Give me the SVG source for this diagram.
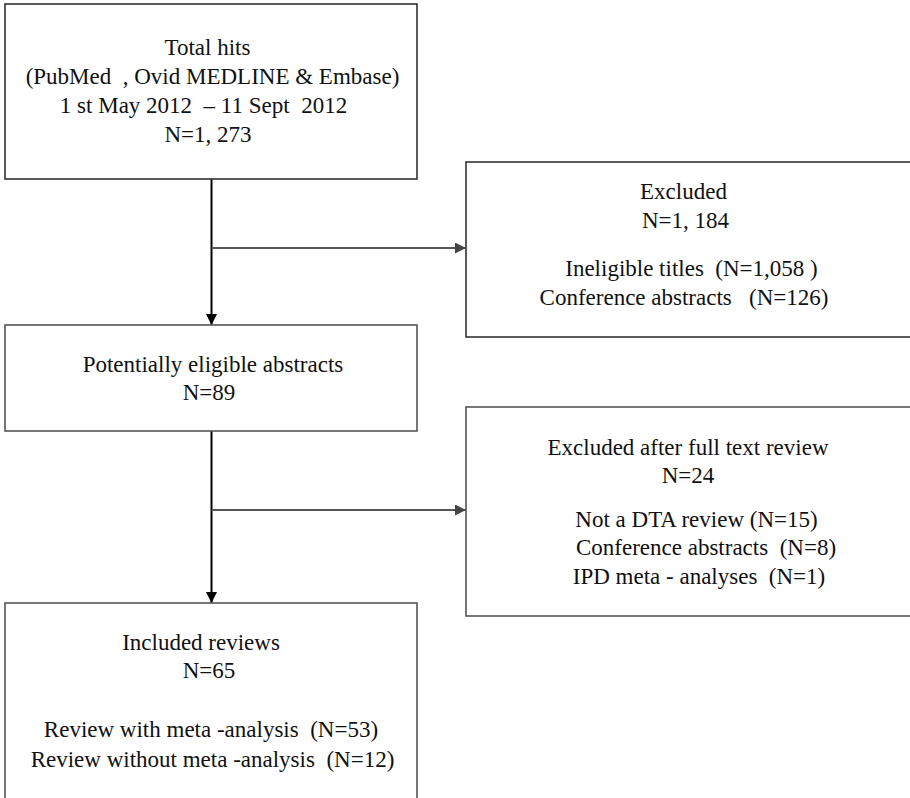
<svg xmlns="http://www.w3.org/2000/svg" width="910" height="798" viewBox="0 0 910 798" xml:space="preserve">
<defs>
<style>
.box{fill:#fff;stroke:#333;stroke-width:1.6}
.box2{fill:#fff;stroke:#555;stroke-width:1.6}
.t text{font-size:23px;fill:#111;text-anchor:middle;white-space:pre}
.v{stroke:#000;stroke-width:2;fill:none}
.h{stroke:#555;stroke-width:1.8;fill:none}
</style>
<marker id="ad" markerWidth="11" markerHeight="11" viewBox="0 0 11 11" refX="11" refY="5.5" orient="auto" markerUnits="userSpaceOnUse"><path d="M0,0 L11,5.5 L0,11 Z" fill="#000"/></marker>
<marker id="ag" markerWidth="11" markerHeight="11" viewBox="0 0 11 11" refX="11" refY="5.5" orient="auto" markerUnits="userSpaceOnUse"><path d="M0,0 L11,5.5 L0,11 Z" fill="#444"/></marker>
</defs>
<rect width="910" height="798" fill="#fff"/>
<g id="connectors">
<line class="v" x1="211.5" y1="179" x2="211.5" y2="325" marker-end="url(#ad)"/>
<line class="h" x1="211.5" y1="248" x2="466" y2="248" marker-end="url(#ag)"/>
<line class="v" x1="211.5" y1="431" x2="211.5" y2="603" marker-end="url(#ad)"/>
<line class="h" x1="211.5" y1="510" x2="466" y2="510" marker-end="url(#ag)"/>
</g>
<g class="t" font-family="'Liberation Serif', 'DejaVu Serif', serif">
<g id="total-hits">
<rect class="box" x="5" y="4" width="412" height="175"/>
<text x="207.5" y="55">Total hits</text>
<text x="212.5" y="84">(PubMed  , Ovid MEDLINE &amp; Embase)</text>
<text x="203.5" y="113">1 st May 2012  – 11 Sept  2012</text>
<text x="208" y="142">N=1, 273</text>
</g>
<g id="excluded">
<rect class="box" x="466" y="162" width="460" height="175"/>
<text x="683.5" y="199">Excluded</text>
<text x="685.5" y="228">N=1, 184</text>
<text x="691.5" y="276">Ineligible titles  (N=1,058 )</text>
<text x="684" y="305">Conference abstracts   (N=126)</text>
</g>
<g id="potentially-eligible">
<rect class="box2" x="5" y="325" width="412" height="106"/>
<text x="213" y="372">Potentially eligible abstracts</text>
<text x="209" y="400">N=89</text>
</g>
<g id="excluded-full-text">
<rect class="box2" x="466" y="407" width="460" height="209"/>
<text x="688" y="455">Excluded after full text review</text>
<text x="688" y="483">N=24</text>
<text x="696.5" y="527">Not a DTA review (N=15)</text>
<text x="706" y="555">Conference abstracts  (N=8)</text>
<text x="699" y="584">IPD meta - analyses  (N=1)</text>
</g>
<g id="included">
<rect class="box2" x="5" y="603" width="412" height="220"/>
<text x="201" y="650">Included reviews</text>
<text x="209" y="678">N=65</text>
<text x="211" y="737">Review with meta -analysis  (N=53)</text>
<text x="212.5" y="767">Review without meta -analysis  (N=12)</text>
</g>
</g>
</svg>
